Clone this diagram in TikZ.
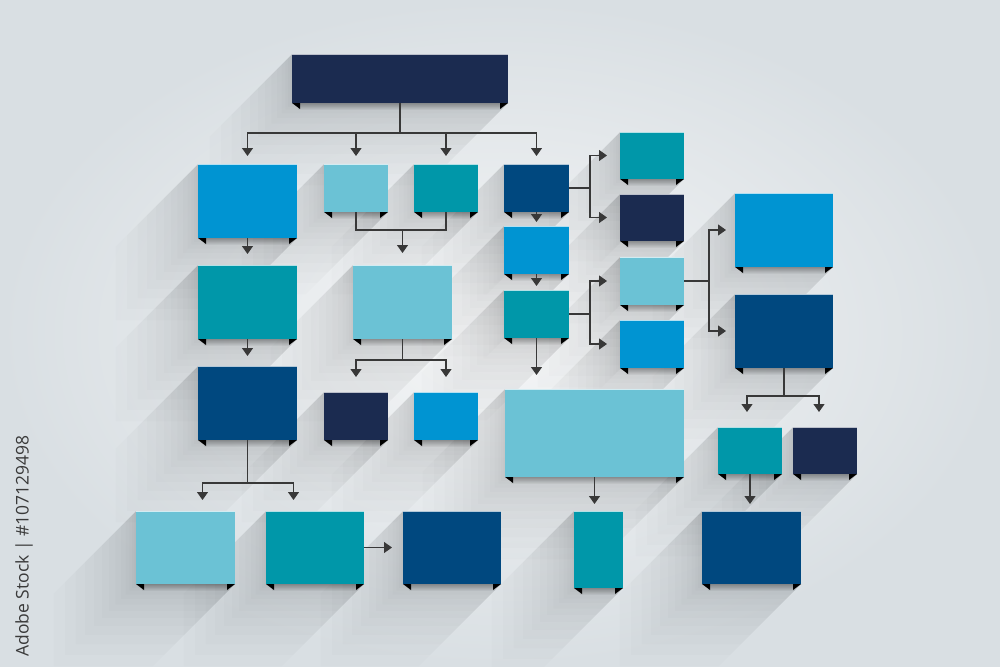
\documentclass[tikz,border=0pt]{standalone}
\usepackage{fontspec}
\newfontfamily\idfont{Open Sans}
\usetikzlibrary{arrows.meta,calc}
\pgfdeclarelayer{bglayer}
\pgfdeclarelayer{shadowlayer}
\pgfsetlayers{bglayer,shadowlayer,main}
\definecolor{navy}{HTML}{1B2B50}
\definecolor{dblue}{HTML}{00487F}
\definecolor{bblue}{HTML}{0094D2}
\definecolor{lblue}{HTML}{6BC2D5}
\definecolor{teal}{HTML}{0097A9}
\definecolor{arrc}{HTML}{383838}
\definecolor{bgin}{HTML}{F5F6F7}
\definecolor{bgout}{HTML}{D9DFE3}
\definecolor{idtext}{HTML}{3A3A3A}
\tikzset{
  flowbox/.style={inner sep=0pt, outer sep=0pt, draw=none},
  shadowfill/.style={fill=black, fill opacity=0.013},
  underside/.style={top color=black!28, bottom color=white, blend mode=multiply},
  tab/.style={fill=black},
  highlight/.style={draw=white, draw opacity=0.7, line width=0.8pt},
  conn/.style={draw=arrc, line width=1.2pt},
  arr/.style={conn, -{Triangle[width=11pt,length=8pt]}},
}
\newcommand\flowbox[6]{%
  \pgfmathsetmacro\fbw{#4-#2}%
  \pgfmathsetmacro\fbh{#5-#3}%
  \pgfmathsetmacro\fbcx{(#2+#4)/2}%
  \pgfmathsetmacro\fbcy{(#3+#5)/2}%
  \begin{pgfonlayer}{shadowlayer}
    \foreach \k in {1,...,14}{%
      \pgfmathsetmacro\sl{0.42*\k*\k}%
      \fill[shadowfill] (#4,#3) -- (#4,#5) -- ++(-\sl,\sl) -- (#2-\sl,#5+\sl) -- (#2-\sl,#3+\sl) -- (#2,#3) -- cycle;
    }
  \end{pgfonlayer}
  \shade[underside] (#2+6,#5) rectangle (#4-6,#5+7);
  \fill[tab] (#2,#5) -- ++(8,0) -- ++(0,6) -- cycle;
  \fill[tab] (#4,#5) -- ++(-8,0) -- ++(0,6) -- cycle;
  \node[flowbox, fill=#6, minimum width=\fbw pt, minimum height=\fbh pt] (#1) at (\fbcx,\fbcy) {};
  \draw[highlight] (#1.north west) -- (#1.north east);
}
\begin{document}
\begin{tikzpicture}[x=1pt,y=-1pt]
\useasboundingbox (0,0) rectangle (1000,666);
\begin{pgfonlayer}{bglayer}
  \shade[inner color=bgin, outer color=bgout] (0,0) rectangle (1000,666);
\end{pgfonlayer}

\flowbox{top}{292}{54}{508}{103}{navy}
\flowbox{a1}{198}{164}{297}{238}{bblue}
\flowbox{a2}{324}{164}{388}{212}{lblue}
\flowbox{a3}{414}{164}{478}{212}{teal}
\flowbox{a4}{504}{164}{569}{212}{dblue}
\flowbox{b1}{620}{132}{684}{179}{teal}
\flowbox{b2}{620}{194}{684}{241}{navy}
\flowbox{a5}{504}{226}{569}{274}{bblue}
\flowbox{a6}{504}{290}{569}{338}{teal}
\flowbox{b3}{620}{257}{684}{305}{lblue}
\flowbox{b4}{620}{320}{684}{368}{bblue}
\flowbox{c1}{735}{193}{833}{267}{bblue}
\flowbox{c2}{735}{294}{833}{368}{dblue}
\flowbox{d1}{198}{265}{297}{339}{teal}
\flowbox{e1}{353}{265}{452}{339}{lblue}
\flowbox{d2}{198}{366}{297}{440}{dblue}
\flowbox{e2}{324}{392}{388}{440}{navy}
\flowbox{e3}{414}{392}{478}{440}{bblue}
\flowbox{g}{505}{389}{684}{477}{lblue}
\flowbox{h1}{718}{427}{782}{474}{teal}
\flowbox{h2}{793}{427}{857}{474}{navy}
\flowbox{f1}{136}{511}{235}{584}{lblue}
\flowbox{f2}{266}{511}{364}{584}{teal}
\flowbox{f3}{403}{511}{501}{584}{dblue}
\flowbox{f4}{574}{511}{623}{588}{teal}
\flowbox{h3}{702}{511}{801}{584}{dblue}

% connectors
\coordinate (j1) at ($(top.south)+(0,30)$);
\draw[conn] (top.south) -- (j1);
\foreach \n in {a1,a2,a3,a4} \draw[arr, shorten >=8pt] (j1) -| (\n.north);
\draw[arr, shorten >=11pt] (a1.south) -- (d1.north);
\draw[arr, shorten >=10pt] (d1.south) -- (d2.north);

\coordinate (j2) at ($(e1.north)+(0,-35)$);
\draw[conn] (a2.south) |- (j2);
\draw[conn] (a3.south) |- (j2);
\draw[arr, shorten >=12pt] (j2) -- (e1.north);

\coordinate (j3) at ($(e1.south)+(0,21)$);
\draw[conn] (e1.south) -- (j3);
\draw[arr, shorten >=15pt] (j3) -| (e2.north);
\draw[arr, shorten >=15pt] (j3) -| (e3.north);

\draw[arr, shorten >=4pt] (a4.south) -- (a5.north);
\draw[arr, shorten >=4pt] (a5.south) -- (a6.north);

\coordinate (j4) at ($(a4.east)+(21,0)$);
\draw[conn] (a4.east) -- (j4);
\draw[arr, shorten >=13pt] (j4) |- (b1.west);
\draw[arr, shorten >=13pt] (j4) |- (b2.west);

\coordinate (j5) at ($(a6.east)+(21,0)$);
\draw[conn] (a6.east) -- (j5);
\draw[arr, shorten >=13pt] (j5) |- (b3.west);
\draw[arr, shorten >=13pt] (j5) |- (b4.west);

\coordinate (j6) at ($(b3.east)+(25,0)$);
\draw[conn] (b3.east) -- (j6);
\draw[arr, shorten >=9pt] (j6) |- (c1.west);
\draw[arr, shorten >=9pt] (j6) |- (c2.west);

\draw[arr, shorten >=14pt] (a6.south) -- (a6.south |- g.north);

\coordinate (j7) at ($(d2.south)+(0,43)$);
\coordinate (j7l) at ($(j7)+(-45,0)$);
\coordinate (j7r) at ($(j7)+(46,0)$);
\draw[conn] (d2.south) -- (j7);
\draw[arr, shorten >=11pt] (j7) -- (j7l) -- (j7l |- f1.north);
\draw[arr, shorten >=11pt] (j7) -- (j7r) -- (j7r |- f2.north);
\draw[arr, shorten >=11pt] (f2.east) -- (f3.west);

\draw[arr, shorten >=7pt] (g.south) -- (g.south |- f4.north);

\coordinate (j8) at ($(c2.south)+(0,28)$);
\coordinate (j8l) at ($(j8)+(-37,0)$);
\coordinate (j8r) at ($(j8)+(35,0)$);
\draw[conn] (c2.south) -- (j8);
\draw[arr, shorten >=15pt] (j8) -- (j8l) -- (j8l |- h1.north);
\draw[arr, shorten >=15pt] (j8) -- (j8r) -- (j8r |- h2.north);

\draw[arr, shorten >=7pt] (h1.south) -- (h1.south |- h3.north);

\node[rotate=90, text=idtext, inner sep=0pt, font=\idfont\fontsize{17.5}{20}\selectfont] (stockid) at (24,546) {Adobe Stock | \#107129498};
\end{tikzpicture}
\end{document}
